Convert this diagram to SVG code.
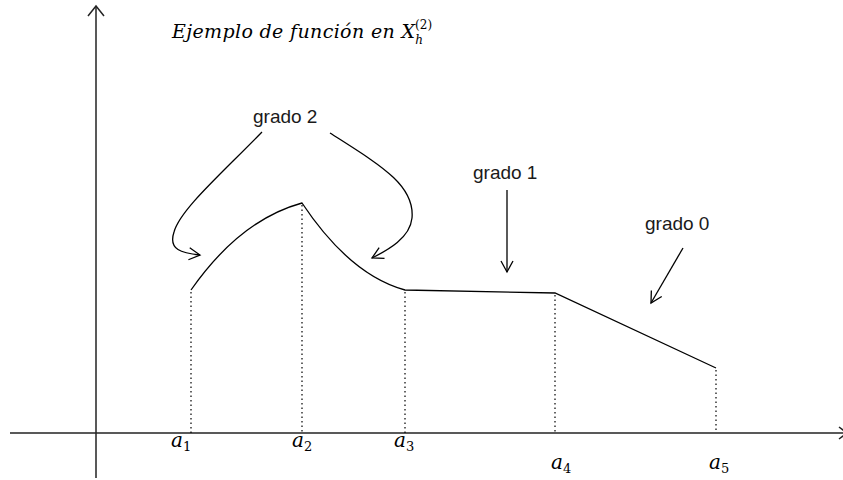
<svg xmlns="http://www.w3.org/2000/svg" width="843" height="480" viewBox="0 0 843 480">
<style>
.ax{stroke:#222;stroke-width:1.5;fill:none}
.ln{stroke:#000;stroke-width:1.3;fill:none}
.dot{stroke:#000;stroke-width:1.2;stroke-dasharray:1.5 3;fill:none}
.ah{stroke:#000;stroke-width:1.3;fill:none}
.lab{font-family:"Liberation Sans",Arial,sans-serif;font-size:19px;fill:#1a1a1a}
.ser{font-family:"DejaVu Serif","Liberation Serif",serif;fill:#000}
</style>
<defs>
<marker id="arr" markerWidth="14" markerHeight="14" refX="12" refY="7" orient="auto" markerUnits="userSpaceOnUse">
<path d="M1,1 L12,7 L1,13" class="ah"/>
</marker>
</defs>
<g id="axes">
<line class="ax" x1="96" y1="6" x2="96" y2="478"/>
<path class="ax" d="M88,16 L96,6 L104,16"/>
<line class="ax" x1="10" y1="433" x2="843" y2="433"/>
<path class="ax" d="M839,427 L847,433 L839,439"/>
</g>
<g id="title">
<text class="ser" x="172" y="38" font-size="19" font-style="italic"><tspan textLength="243" lengthAdjust="spacing">Ejemplo de función en X</tspan><tspan font-size="12" dy="6">h</tspan><tspan font-size="12" font-style="normal" dx="-8" dy="-15">(2)</tspan></text>
</g>
<g id="function">
<path class="ln" d="M191,290 Q240,220 302,203 Q350,275 405,290 L555,293 L716,368"/>
</g>
<g id="guides">
<line class="dot" x1="191" y1="292" x2="191" y2="433"/>
<line class="dot" x1="302" y1="205" x2="302" y2="433"/>
<line class="dot" x1="405" y1="292" x2="405" y2="433"/>
<line class="dot" x1="555" y1="295" x2="555" y2="433"/>
<line class="dot" x1="716" y1="370" x2="716" y2="433"/>
</g>
<g id="ticks">
<text class="ser" x="171" y="447" font-size="20" font-style="italic">a<tspan font-size="13" font-style="normal" dy="4">1</tspan></text>
<text class="ser" x="292" y="447" font-size="20" font-style="italic">a<tspan font-size="13" font-style="normal" dy="4">2</tspan></text>
<text class="ser" x="394" y="447" font-size="20" font-style="italic">a<tspan font-size="13" font-style="normal" dy="4">3</tspan></text>
<text class="ser" x="551" y="469" font-size="20" font-style="italic">a<tspan font-size="13" font-style="normal" dy="4">4</tspan></text>
<text class="ser" x="709" y="469" font-size="20" font-style="italic">a<tspan font-size="13" font-style="normal" dy="4">5</tspan></text>
</g>
<g id="grado2">
<text class="lab" x="253" y="123">grado 2</text>
</g>
<g id="grado1">
<text class="lab" x="473" y="179">grado 1</text>
</g>
<g id="grado0">
<text class="lab" x="645" y="230">grado 0</text>
</g>
<g id="connectors">
<path class="ln" marker-end="url(#arr)" d="M262,132 C220,175 180,210 174,232 C168,250 182,253 200,255"/>
<path class="ln" marker-end="url(#arr)" d="M330,133 C380,165 415,185 412,218 C410,238 388,250 372,258"/>
<line class="ln" marker-end="url(#arr)" x1="507" y1="190" x2="507" y2="272"/>
<line class="ln" marker-end="url(#arr)" x1="683" y1="248" x2="651" y2="303"/>
</g>
</svg>
